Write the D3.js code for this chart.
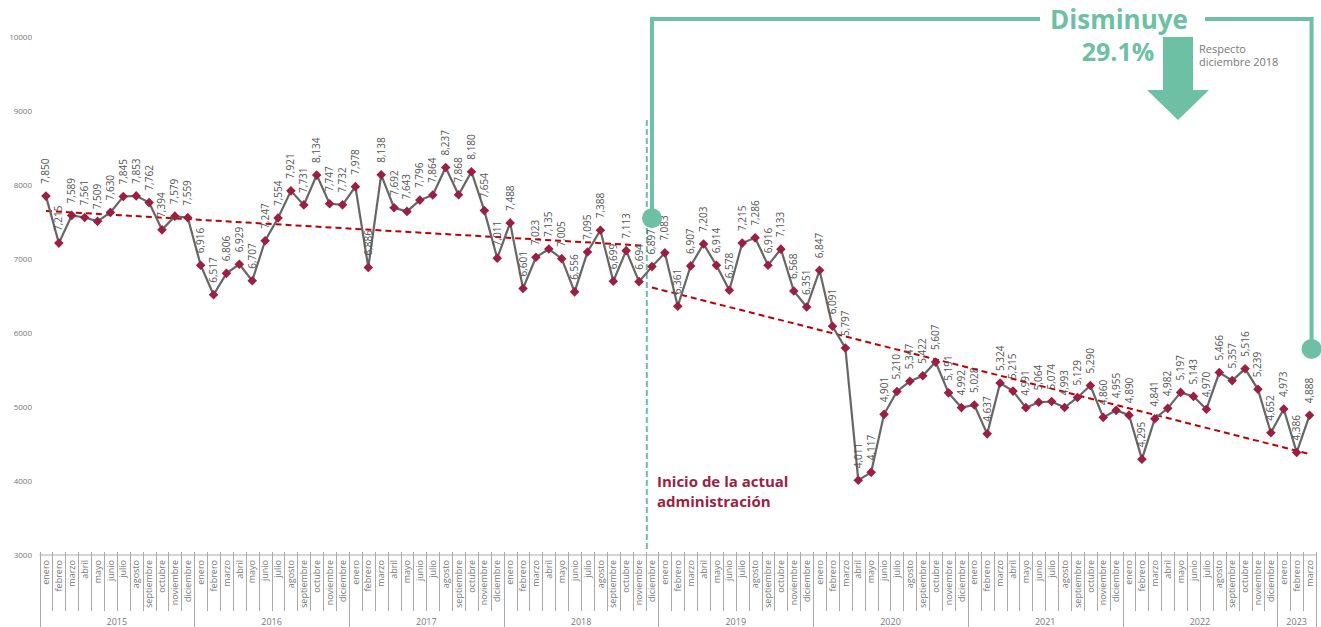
<!DOCTYPE html>
<html><head><meta charset="utf-8">
<script src="https://cdn.jsdelivr.net/npm/d3@7"></script>
<style>
html,body{margin:0;padding:0;background:#fff;}
svg{display:block;font-family:"Open Sans",sans-serif;}
</style></head>
<body><svg id="c" width="1321" height="627"></svg>
<script>
const months = ["enero","febrero","marzo","abril","mayo","junio","julio","agosto","septiembre","octubre","noviembre","diciembre"];
const years = ["2015","2016","2017","2018","2019","2020","2021","2022","2023"];
const v2015 = [7850,7215,7589,7561,7509,7630,7845,7853,7762,7394,7579,7559];
const v2016 = [6916,6517,6806,6929,6707,7247,7554,7921,7731,8134,7747,7732];
const v2017 = [7978,6886,8138,7692,7643,7796,7864,8237,7868,8180,7654,7011];
const v2018 = [7488,6601,7023,7135,7005,6556,7095,7388,6699,7113,6694,6897];
const v2019 = [7083,6361,6907,7203,6914,6578,7215,7286,6916,7133,6568,6351];
const v2020 = [6847,6091,5797,4011,4117,4901,5210,5347,5422,5607,5191,4992];
const v2021 = [5028,4637,5324,5215,4991,5064,5074,4993,5129,5290,4860,4955];
const v2022 = [4890,4295,4841,4982,5197,5143,4970,5466,5357,5516,5239,4652];
const v2023 = [4973,4386,4888];
const yTicks = [3000,4000,5000,6000,7000,8000,9000,10000];
// trend lines (month index, value)
const trendBefore = [{i:0, v:7650},{i:46.4, v:7180}];
const trendAfter = [{i:47, v:6615},{i:98, v:4365}];

const series = [v2015,v2016,v2017,v2018,v2019,v2020,v2021,v2022,v2023];
const data = [];
series.forEach((arr, yi) => arr.forEach((v, mi) => data.push({year: years[yi], month: months[mi], v, i: data.length})));
const N = data.length;

const svg = d3.select("#c");
const L = 39.5, R = 1316;
const x = d3.scaleLinear().domain([-0.5, N - 0.5]).range([L, R]);
const y = d3.scaleLinear().domain([3000, 10000]).range([555, 37]);
const step = (R - L) / N;

const grey = "#666", axisGrey = "#aaa";
const green = "#6dc0a3", crimson = "#9c1f43", red = "#c00000";

// y tick labels
svg.append("g").selectAll("text").data(yTicks).join("text")
  .attr("x", 32).attr("y", d => y(d)).attr("dy", "0.35em")
  .attr("text-anchor", "end").attr("font-size", 8).attr("fill", "#777")
  .text(d => d);

// x axis line
const ax = svg.append("g");
ax.append("line").attr("x1", L).attr("x2", R).attr("y1", 555).attr("y2", 555)
  .attr("stroke", axisGrey).attr("stroke-width", 1);
// boundaries
const bounds = d3.range(N + 1);
ax.selectAll("line.b").data(bounds).join("line").attr("class","b")
  .attr("x1", d => Math.round(x(d - 0.5)) + 0.5).attr("x2", d => Math.round(x(d - 0.5)) + 0.5)
  .attr("y1", 552)
  .attr("y2", d => (d % 12 === 0 || d === N) ? 627 : 611)
  .attr("stroke", axisGrey).attr("stroke-width", 1);
// month labels
ax.selectAll("text.m").data(data).join("text").attr("class","m")
  .attr("transform", d => `translate(${x(d.i)},560) rotate(-90)`)
  .attr("dy", "0.35em").attr("text-anchor", "end")
  .attr("font-size", 9).attr("fill", "#777").text(d => d.month);
// year labels
ax.selectAll("text.y").data(years).join("text").attr("class","y")
  .attr("x", (d, k) => { const s = k * 12; const e = Math.min(N, s + 12); return (x(s - 0.5) + x(e - 0.5)) / 2; })
  .attr("y", 625).attr("text-anchor", "middle")
  .attr("font-size", 9).attr("fill", "#777").text(d => d);

// green dashed vertical
svg.append("line").attr("x1", x(46.6)).attr("x2", x(46.6)).attr("y1", 120).attr("y2", 550)
  .attr("stroke", green).attr("stroke-width", 2).attr("stroke-dasharray", "6,3");

// trend lines
const tl = d3.line().x(d => x(d.i)).y(d => y(d.v));
[trendBefore, trendAfter].forEach(t => svg.append("path").attr("d", tl(t))
  .attr("fill", "none").attr("stroke", red).attr("stroke-width", 2).attr("stroke-dasharray", "6,4"));

// main line
svg.append("path").datum(data)
  .attr("d", d3.line().x(d => x(d.i)).y(d => y(d.v)))
  .attr("fill", "none").attr("stroke", grey).attr("stroke-width", 2.2);

// markers
svg.append("g").selectAll("path").data(data).join("path")
  .attr("transform", d => `translate(${x(d.i)},${y(d.v)})`)
  .attr("d", "M0,-4.8L4.8,0L0,4.8L-4.8,0Z").attr("fill", crimson);

// data labels
svg.append("g").selectAll("text").data(data).join("text")
  .attr("transform", d => `translate(${x(d.i)},${y(d.v) - 12}) rotate(-90)`)
  .attr("dy", "0.35em").attr("text-anchor", "start")
  .attr("font-size", 10).attr("fill", "#555")
  .text(d => d3.format(",")(d.v));

// annotation bracket
const xa = x(47), xb = x(N - 1) + 2;
const topY = 19;
const br = svg.append("g");
br.append("path").attr("d", `M${xa},${y(7550)}V${topY}H1040`).attr("fill","none")
  .attr("stroke", green).attr("stroke-width", 4);
br.append("path").attr("d", `M1205,${topY}H${xb}V${y(5785)}`).attr("fill","none")
  .attr("stroke", green).attr("stroke-width", 4);
br.append("circle").attr("cx", xa).attr("cy", y(7550)).attr("r", 10).attr("fill", green);
br.append("circle").attr("cx", xb).attr("cy", y(5785)).attr("r", 10).attr("fill", green);
br.append("text").attr("x", 1119).attr("y", 29).attr("text-anchor","middle")
  .attr("font-size", 26).attr("font-weight", 700).attr("fill", green).text("Disminuye");
br.append("text").attr("x", 1118).attr("y", 61).attr("text-anchor","middle")
  .attr("font-size", 25).attr("font-weight", 700).attr("fill", green).text("29.1%");
br.append("path").attr("d", "M1163,37H1193V90H1209L1178,120L1147,90H1163Z").attr("fill", green);
br.append("text").attr("x", 1199).attr("y", 53).attr("font-size", 11).attr("fill", "#777").text("Respecto");
br.append("text").attr("x", 1199).attr("y", 66).attr("font-size", 11).attr("fill", "#777").text("diciembre 2018");

// "Inicio" text
svg.append("text").attr("x", 657).attr("y", 487).attr("font-size", 15).attr("font-weight", 700)
  .attr("fill", crimson).text("Inicio de la actual");
svg.append("text").attr("x", 657).attr("y", 507).attr("font-size", 15).attr("font-weight", 700)
  .attr("fill", crimson).text("administración");
</script></body></html>
